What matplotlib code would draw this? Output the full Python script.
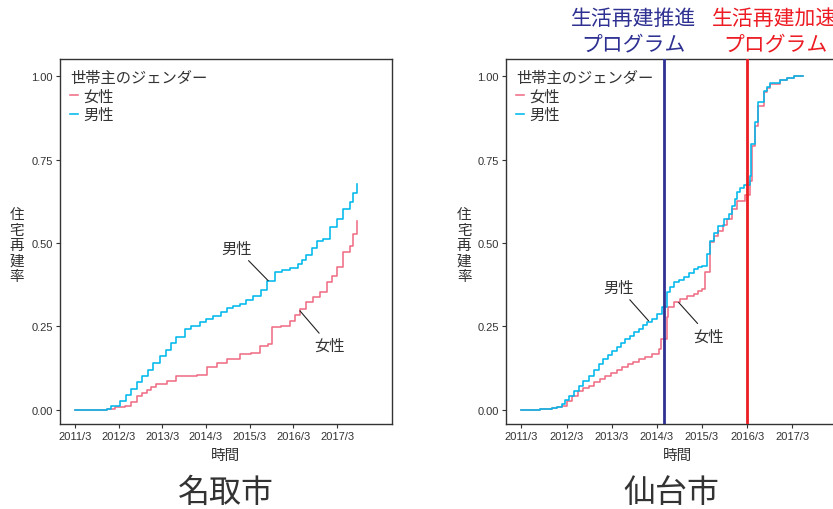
import matplotlib
matplotlib.use("Agg")
import matplotlib.pyplot as plt
from matplotlib import font_manager

CJK = ["Noto Sans CJK JP", "DejaVu Sans"]
names = {f.name for f in font_manager.fontManager.ttflist}
TICKFONT = "Liberation Sans Narrow" if "Liberation Sans Narrow" in names else "Liberation Sans"
plt.rcParams["font.family"] = CJK

TXT = "#333333"
FEMALE_C = "#EE6E85"
MALE_C = "#00B8EC"
NAVY = "#2E3192"
RED = "#ED1C24"

# months elapsed since 2011/3
tick_months = [0, 12, 24, 36, 48, 60, 72]
tick_labels = ["2011/3", "2012/3", "2013/3", "2014/3", "2015/3", "2016/3", "2017/3"]
y_ticks = [0.0, 0.25, 0.5, 0.75, 1.0]
y_labels = ["0.00", "0.25", "0.50", "0.75", "1.00"]
genders = ["女性", "男性"]

# 名取市
natori_male_m = [0, 8.7, 10, 12.4, 14, 15.5, 17, 18.5, 20, 21.5, 23.4, 25, 26.5, 27.9, 30.2,
                 32, 34.3, 36, 38, 40, 41.7, 43.5, 45.3, 47, 49, 51, 52.7, 55, 57, 59, 61.3,
                 62.5, 63.6, 65, 66.4, 68.2, 70, 71.9, 73.7, 75.5, 76.5, 77.4]
natori_male_v = [0, 0.003, 0.012, 0.028, 0.045, 0.062, 0.083, 0.103, 0.12, 0.14, 0.163, 0.18,
                 0.2, 0.218, 0.243, 0.25, 0.263, 0.272, 0.282, 0.293, 0.304, 0.31, 0.317, 0.328,
                 0.34, 0.36, 0.387, 0.414, 0.418, 0.424, 0.437, 0.45, 0.464, 0.485, 0.507, 0.512,
                 0.547, 0.572, 0.602, 0.622, 0.65, 0.677]
natori_female_m = [0, 8.7, 11, 13.7, 15.5, 17, 18.5, 19.7, 21, 22.4, 25.2, 27.9, 33.4, 36.2, 39,
                   41.7, 45.3, 48.5, 50.8, 53.1, 54, 56.7, 59, 60.5, 61.8, 63.5, 65.5, 67.3,
                   69.2, 70.5, 71.9, 73.7, 75.5, 76.4, 77.4]
natori_female_v = [0, 0.003, 0.008, 0.013, 0.025, 0.043, 0.052, 0.061, 0.07, 0.078, 0.088, 0.101,
                   0.105, 0.128, 0.14, 0.153, 0.168, 0.17, 0.191, 0.198, 0.248, 0.251, 0.267,
                   0.283, 0.302, 0.322, 0.337, 0.352, 0.382, 0.4, 0.427, 0.472, 0.492, 0.527, 0.567]

# 仙台市
sendai_male_m = [0, 5, 8.2, 9.5, 10.8, 11.7, 12.6, 13.9, 15.2, 16.5, 17.9, 19.2, 20.5, 21.7, 22.9,
                 24.1, 25.3, 26.5, 27.6, 28.8, 30, 31.2, 32.4, 33.5, 34.7, 36, 37.4, 38.7, 39.6,
                 40.5, 41.8, 43.1, 44.5, 45.8, 47, 48, 49.3, 50.2, 51.3, 52.4, 53.8, 55.1, 56,
                 56.7, 57.3, 58.2, 59.1, 60.8, 61.1, 62.2, 63, 64.4, 65.3, 66.2, 68.8, 70.5,
                 72.4, 74.8]
sendai_male_v = [0, 0.002, 0.005, 0.01, 0.018, 0.03, 0.043, 0.058, 0.073, 0.088, 0.103, 0.12,
                 0.138, 0.152, 0.165, 0.178, 0.19, 0.202, 0.213, 0.223, 0.233, 0.243, 0.253,
                 0.262, 0.272, 0.287, 0.307, 0.352, 0.367, 0.382, 0.39, 0.397, 0.41, 0.422,
                 0.428, 0.432, 0.467, 0.507, 0.53, 0.552, 0.572, 0.587, 0.612, 0.632, 0.652,
                 0.665, 0.674, 0.702, 0.796, 0.861, 0.921, 0.956, 0.968, 0.979, 0.989, 0.994,
                 1.0, 1.0]
sendai_female_m = [0, 5, 8.2, 9.5, 10.8, 12.2, 13.5, 15, 16.5, 17.9, 19.4, 20.8, 22.3, 23.8, 25.3,
                   26.8, 28.3, 29.7, 31.2, 32.9, 34.7, 36.5, 37.1, 38.7, 39.1, 40.6, 42.2, 44,
                   45.8, 47, 48, 48.9, 50.2, 51.3, 52.4, 53.5, 54.6, 56, 57.3, 59.5, 60.8, 61.3,
                   62.2, 63, 64.4, 65.3, 66.2, 68.8, 70.5, 72.4, 74.8]
sendai_female_v = [0, 0.002, 0.005, 0.009, 0.013, 0.028, 0.043, 0.058, 0.066, 0.073, 0.083, 0.093,
                   0.103, 0.112, 0.12, 0.128, 0.137, 0.145, 0.153, 0.16, 0.168, 0.183, 0.213,
                   0.278, 0.307, 0.322, 0.332, 0.34, 0.347, 0.355, 0.362, 0.412, 0.502, 0.52,
                   0.537, 0.555, 0.572, 0.602, 0.627, 0.644, 0.687, 0.791, 0.85, 0.911, 0.951,
                   0.965, 0.976, 0.987, 0.993, 1.0, 1.0]

# program start dates (months since 2011/3)
promote_month = 38
accelerate_month = 60

W, H = 833, 510
fig = plt.figure(figsize=(W / 100, H / 100), dpi=100)
ax1 = fig.add_axes([60 / W, 85 / H, 332 / W, 365 / H])
ax2 = fig.add_axes([506 / W, 85 / H, 343 / W, 365 / H])


def style(ax, xmax, label_x):
    ax.set_xlim(-4.1, xmax)
    ax.set_ylim(-0.042, 1.051)
    ax.set_xticks(tick_months)
    ax.set_xticklabels(tick_labels, fontfamily=TICKFONT, fontsize=8, color=TXT)
    ax.set_yticks(y_ticks)
    ax.set_yticklabels(y_labels, fontfamily=TICKFONT, fontsize=8, color=TXT)
    ax.tick_params(length=3, width=0.8, color=TXT, pad=2)
    for s in ax.spines.values():
        s.set_color(TXT)
        s.set_linewidth(1.0)
    ax.set_xlabel("時間", fontsize=10.5, color=TXT, labelpad=5)
    ax.set_ylabel("住\n宅\n再\n建\n率", rotation=0, fontsize=10.5, color=TXT,
                  linespacing=1.13, va="center", ha="center")
    ax.yaxis.set_label_coords(label_x, 0.49)


def draw(ax, fm, fv, mm, mv):
    ax.plot(fm, fv, drawstyle="steps-post", color=FEMALE_C, lw=1.15, label=genders[0])
    ax.plot(mm, mv, drawstyle="steps-post", color=MALE_C, lw=1.15, label=genders[1])
    leg = ax.legend(title="世帯主のジェンダー", loc="upper left", frameon=False,
                    fontsize=11, title_fontsize=11, handlelength=0.55, handletextpad=0.3,
                    labelspacing=0.1, borderaxespad=0.45, borderpad=0.2,
                    alignment="left")
    for t in leg.get_texts():
        t.set_color(TXT)
    leg.get_title().set_color(TXT)


draw(ax1, natori_female_m, natori_female_v, natori_male_m, natori_male_v)
style(ax1, 87.1, -0.13)
draw(ax2, sendai_female_m, sendai_female_v, sendai_male_m, sendai_male_v)
style(ax2, 87.1, -0.122)

ax2.axvline(promote_month, color=NAVY, lw=2.0, zorder=4)
ax2.axvline(accelerate_month, color=RED, lw=2.0, zorder=4)

arrow = dict(arrowstyle="-", color="#222222", lw=0.8, shrinkA=1, shrinkB=0)
ax1.annotate("男性", xy=(53.1, 0.387), xytext=(44.4, 0.484), fontsize=11, color=TXT,
             ha="center", va="center", arrowprops=arrow)
ax1.annotate("女性", xy=(61.8, 0.297), xytext=(70.0, 0.193), fontsize=11, color=TXT,
             ha="center", va="center", arrowprops=arrow)
ax2.annotate("男性", xy=(33.8, 0.267), xytext=(25.9, 0.367), fontsize=11, color=TXT,
             ha="center", va="center", arrowprops=arrow)
ax2.annotate("女性", xy=(41.8, 0.322), xytext=(49.8, 0.222), fontsize=11, color=TXT,
             ha="center", va="center", arrowprops=arrow)

fig.text(634 / W, 1 - 32 / H, "生活再建推進\nプログラム", color=NAVY, fontsize=15,
         ha="center", va="center", linespacing=1.2)
fig.text(775 / W, 1 - 32 / H, "生活再建加速\nプログラム", color=RED, fontsize=15,
         ha="center", va="center", linespacing=1.2)

fig.text(226 / W, 1 - 493 / H, "名取市", fontsize=23, color=TXT, ha="center", va="center")
fig.text(671 / W, 1 - 493 / H, "仙台市", fontsize=23, color=TXT, ha="center", va="center")

fig.savefig("out.png", dpi=100)
